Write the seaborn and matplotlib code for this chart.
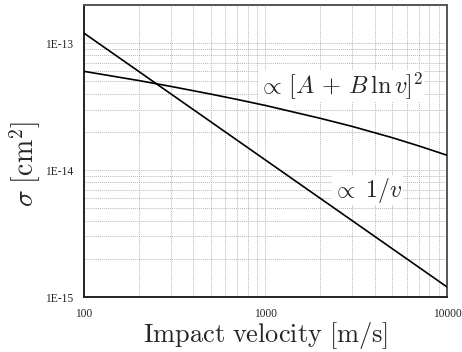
import numpy as np
import pandas as pd
import matplotlib
matplotlib.use("Agg")
import matplotlib.pyplot as plt
import seaborn as sns
from matplotlib.ticker import LogLocator, FixedLocator, FixedFormatter, NullFormatter

# Impact velocity [m/s] and cross sections [cm^2]
v_log = [100, 200, 300, 500, 700, 1000, 2000, 3000, 5000, 7000, 10000]
sigma_log = [6.0e-14, 5.08e-14, 4.57e-14, 3.97e-14, 3.60e-14, 3.23e-14,
             2.56e-14, 2.21e-14, 1.80e-14, 1.55e-14, 1.31e-14]
v_inv = [100, 1000, 10000]
sigma_inv = [1.2e-13, 1.2e-14, 1.2e-15]

x_ticks = [100, 1000, 10000]
x_ticklabels = ["100", "1000", "10000"]
y_ticks = [1e-15, 1e-14, 1e-13]
y_ticklabels = ["1E-15", "1E-14", "1E-13"]

sns.set_style("white")
plt.rcParams["mathtext.fontset"] = "cm"

df = pd.concat([
    pd.DataFrame({"v": v_log, "sigma": sigma_log, "model": "log"}),
    pd.DataFrame({"v": v_inv, "sigma": sigma_inv, "model": "inv"}),
])

fig = plt.figure(figsize=(4.62, 3.52), dpi=100)
ax = fig.add_axes([84 / 462, 1 - 297 / 352, (447 - 84) / 462, (297 - 5) / 352])

sns.lineplot(data=df, x="v", y="sigma", hue="model", palette=["black", "black"],
             linewidth=1.2, legend=False, ax=ax, sort=False, estimator=None)

ax.set_xscale("log")
ax.set_yscale("log")
ax.set_xlim(100, 10000)
ax.set_ylim(1e-15, 2e-13)

ax.xaxis.set_major_locator(FixedLocator(x_ticks))
ax.xaxis.set_major_formatter(FixedFormatter(x_ticklabels))
ax.yaxis.set_major_locator(FixedLocator(y_ticks))
ax.yaxis.set_major_formatter(FixedFormatter(y_ticklabels))
ax.xaxis.set_minor_locator(LogLocator(base=10, subs=np.arange(2, 10)))
ax.yaxis.set_minor_locator(LogLocator(base=10, subs=np.arange(2, 10)))
ax.xaxis.set_minor_formatter(NullFormatter())
ax.yaxis.set_minor_formatter(NullFormatter())

ax.grid(True, which="both", linestyle=(0, (1, 1)), color="#b8b8b8", linewidth=0.7)

for lab in ax.get_xticklabels() + ax.get_yticklabels():
    lab.set_fontfamily("Liberation Serif")
    lab.set_fontsize(8.3)

ax.tick_params(which="major", direction="inout", length=8, width=1.0, color="#222222",
               top=False, right=False)
ax.tick_params(which="minor", direction="inout", length=5, width=0.9, color="#222222",
               top=False, right=False)
ax.tick_params(axis="x", which="major", pad=4)
ax.tick_params(axis="y", which="major", pad=4)

for side in ["left", "bottom"]:
    ax.spines[side].set_color("#222222")
    ax.spines[side].set_linewidth(1.4)
for side in ["top", "right"]:
    ax.spines[side].set_color("#555555")
    ax.spines[side].set_linewidth(1.4)

ax.set_xlabel(r"$\mathrm{Impact\ velocity\ [m/s]}$", fontsize=19, labelpad=0)
ax.set_ylabel(r"$\sigma\ [\mathrm{cm}^2]$", fontsize=20)
ax.yaxis.set_label_coords(-0.113, 0.455)

box = dict(facecolor="white", edgecolor="none", pad=0.0)
ax.text(2600, 4.6e-14, r"$\propto\,[A\,+\,B\,\ln v]^2$", fontsize=17.5,
        ha="center", va="center", bbox=box)
ax.text(3650, 6.9e-15, r"$\propto\ 1/v$", fontsize=17,
        ha="center", va="center", bbox=box)
ax.lines[0].set_zorder(3)
ax.lines[1].set_zorder(3)

fig.savefig("out.png", dpi=100)
